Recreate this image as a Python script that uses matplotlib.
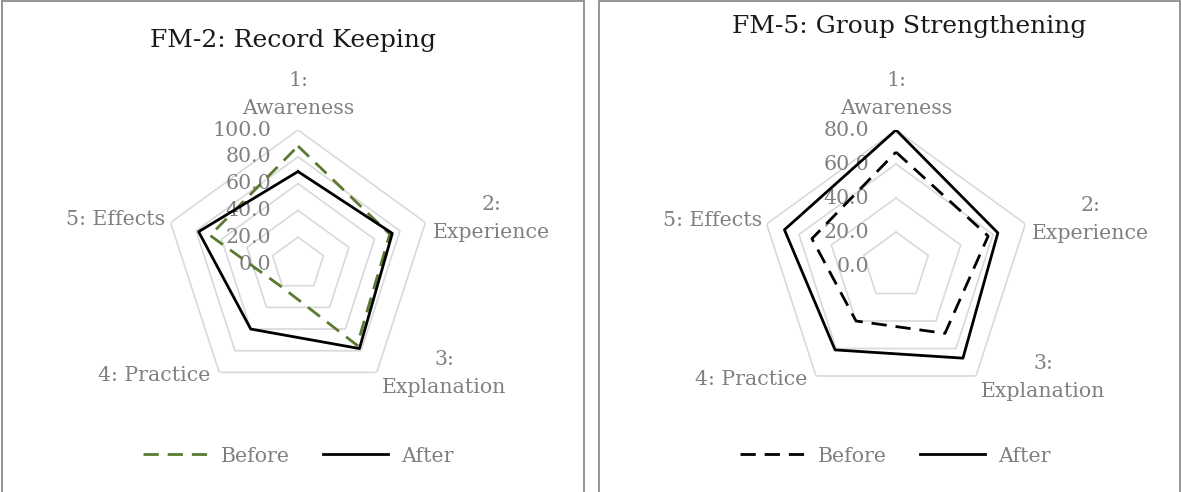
import numpy as np
import matplotlib
matplotlib.use("Agg")
import matplotlib.pyplot as plt
from matplotlib.patches import Rectangle
from matplotlib.lines import Line2D

# ---- data -------------------------------------------------------------
categories = ["1:\nAwareness", "2:\nExperience", "3:\nExplanation",
              "4: Practice", "5: Effects"]

fm2_title = "FM-2: Record Keeping"
fm2_before = [88, 72, 75, 21, 69]
fm2_after = [69, 74, 78, 60, 78]
fm2_ticks = [0, 20, 40, 60, 80, 100]

fm5_title = "FM-5: Group Strengthening"
fm5_before = [67, 57, 49, 40, 52]
fm5_after = [80, 63, 67, 61, 69]
fm5_ticks = [0, 20, 40, 60, 80]

series_names = ["Before", "After"]

# ---- style ------------------------------------------------------------
W, H = 1182, 492
DPI = 100
plt.rcParams["font.family"] = ["DejaVu Serif"]
LABEL_GRAY = "#808080"
GRID_GRAY = "#d9d9d9"
BORDER_GRAY = "#8c8c8c"
PX = 72.0 / DPI  # points per pixel
FS = 14.8
LW = 2.0
DASH = (5.5, 3.2)

fig = plt.figure(figsize=(W / DPI, H / DPI), dpi=DPI)

# panel frames (open at the bottom)
for x0, x1 in [(2, 584), (599, 1180)]:
    fig.patches.append(Rectangle((x0 / W, -0.05), (x1 - x0) / W, (H - 1) / H + 0.05,
                                 transform=fig.transFigure, fill=False,
                                 edgecolor=BORDER_GRAY, linewidth=1.3))

# label offsets (pixels) from each outer vertex
label_place = [
    dict(off=(0, 36), ha="center", va="center"),
    dict(off=(7, 4), ha="left", va="center"),
    dict(off=(5, -1), ha="left", va="center"),
    dict(off=(-9, -3), ha="right", va="center"),
    dict(off=(-5, 3), ha="right", va="center"),
]


def radar(cx, cy, R, ticks, before, after, before_color, title, title_xy, legend_xy):
    ax = fig.add_axes([(cx - R) / W, (H - cy - R) / H, 2 * R / W, 2 * R / H],
                      projection="polar")
    ax.set_theta_offset(np.pi / 2)
    ax.set_theta_direction(-1)
    n = len(categories)
    theta = np.linspace(0, 2 * np.pi, n, endpoint=False)
    closed = np.append(theta, theta[0])
    rmax = ticks[-1]
    ax.set_ylim(0, rmax)
    ax.axis("off")

    # pentagon grid
    for t in ticks[1:]:
        ax.plot(closed, [t] * (n + 1), color=GRID_GRAY, lw=1.2, zorder=1)

    # value tick labels along the top spoke
    for t in ticks:
        ax.annotate(f"{t:.1f}", xy=(0, t), xytext=(-27 * PX, 0),
                    textcoords="offset points", ha="right", va="center",
                    color=LABEL_GRAY, fontsize=FS, zorder=2)

    # category labels
    for th, lab, pl in zip(theta, categories, label_place):
        ax.annotate(lab, xy=(th, rmax),
                    xytext=(pl["off"][0] * PX, pl["off"][1] * PX),
                    textcoords="offset points", ha=pl["ha"], va=pl["va"],
                    multialignment="center", color=LABEL_GRAY, fontsize=FS,
                    linespacing=1.6, annotation_clip=False)

    ax.plot(closed, before + before[:1], color=before_color, lw=LW,
            dashes=DASH, zorder=3)
    ax.plot(closed, after + after[:1], color="black", lw=LW, zorder=4)

    fig.text(title_xy[0] / W, 1 - title_xy[1] / H, title, ha="center", va="center",
             fontsize=18, color="#1a1a1a")

    handles = [Line2D([], [], color=before_color, lw=LW, dashes=DASH),
               Line2D([], [], color="black", lw=LW)]
    fig.legend(handles, series_names, loc="center",
               bbox_to_anchor=(legend_xy[0] / W, 1 - legend_xy[1] / H),
               ncol=2, frameon=False, fontsize=FS, labelcolor=LABEL_GRAY,
               handlelength=3.2, handletextpad=0.6, columnspacing=1.6)
    return ax


radar(298, 264, 134, fm2_ticks, fm2_before, fm2_after, "#5b7a30",
      fm2_title, (293, 40), (298, 456))
radar(896, 266, 136, fm5_ticks, fm5_before, fm5_after, "black",
      fm5_title, (909, 27), (895, 456))

fig.savefig("out.png", dpi=DPI)
